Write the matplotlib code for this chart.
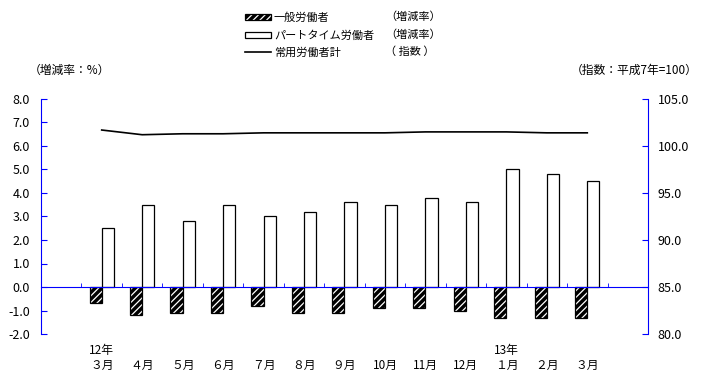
import numpy as np
import matplotlib.pyplot as plt
from matplotlib.legend_handler import HandlerTuple

plt.rcParams['font.family'] = ['Noto Sans CJK JP', 'DejaVu Sans']
plt.rcParams['hatch.linewidth'] = 0.9

# Data
months = ['３月', '４月', '５月', '６月', '７月', '８月', '９月',
          '10月', '11月', '12月', '１月', '２月', '３月']
years = {0: '12年', 10: '13年'}
general = [-0.7, -1.2, -1.1, -1.1, -0.8, -1.1, -1.1, -0.9, -0.9, -1.0, -1.3, -1.3, -1.3]
parttime = [2.5, 3.5, 2.8, 3.5, 3.0, 3.2, 3.6, 3.5, 3.8, 3.6, 5.0, 4.8, 4.5]
index = [101.7, 101.2, 101.3, 101.3, 101.4, 101.4, 101.4, 101.4, 101.5, 101.5, 101.5, 101.4, 101.4]

blue = '#0000ff'
x = np.arange(len(months))
w = 0.3

fig = plt.figure(figsize=(7.26, 3.80), dpi=100)
ax = fig.add_axes([41/726, 1 - 334/380, (648 - 41)/726, (334 - 99)/380])

# hatched bars: black face, white hatch, black outline on top
hb = ax.bar(x - w/2, general, w, color='black', edgecolor='white', hatch='/////', linewidth=0)
hb_edge = ax.bar(x - w/2, general, w, fill=False, edgecolor='black', linewidth=0.9)
pb = ax.bar(x + w/2, parttime, w, color='white', edgecolor='black', linewidth=0.9)

ax.set_xlim(-1.5, 13.5)
ax.set_ylim(-2, 8)
ax.set_yticks(np.arange(-2, 9, 1))
ax.set_yticklabels([f'{v:.1f}' for v in np.arange(-2, 9, 1)], fontsize=9)
ax.spines['top'].set_visible(False)
ax.spines['right'].set_visible(False)
ax.spines['left'].set_color(blue)
ax.spines['bottom'].set_color(blue)
ax.spines['bottom'].set_position(('data', 0))
ax.tick_params(axis='y', direction='in', color=blue, length=4, pad=8)
ax.set_xticks([])
ax.set_xticks(np.arange(-0.5, 13, 1), minor=True)
ax.tick_params(axis='x', which='minor', direction='in', color=blue, length=3)

ax2 = ax.twinx()
ln, = ax2.plot(x, index, color='black', linewidth=1.2)
ax2.set_ylim(80, 105)
ax2.set_yticks(np.arange(80, 106, 5))
ax2.set_yticklabels([f'{v:.1f}' for v in np.arange(80, 106, 5)], fontsize=9)
for s in ['top', 'left', 'bottom']:
    ax2.spines[s].set_visible(False)
ax2.spines['right'].set_color(blue)
ax2.tick_params(axis='y', direction='in', color=blue, length=4, pad=7)

# month labels
for i, m in enumerate(months):
    ax.text(i, -3.35, m, ha='center', va='center', fontsize=8.5)
for i, y in years.items():
    ax.text(i, -2.7, y, ha='center', va='center', fontsize=8.5)

fig.text(69/726, 1 - 70/380, '（増減率：%）', ha='center', va='center', fontsize=8.5)
fig.text(634/726, 1 - 70/380, '（指数：平成7年=100）', ha='center', va='center', fontsize=8.5)

# legend
fig.legend([(hb[0], hb_edge[0]), pb[0], ln],
           ['一般労働者', 'パートタイム労働者', '常用労働者計'],
           handler_map={tuple: HandlerTuple()},
           loc='upper left', bbox_to_anchor=(239/726, 1 - 7/380),
           frameon=False, fontsize=8, handlelength=2.4, handleheight=0.45,
           handletextpad=0.25, labelspacing=0.62, borderpad=0)
for yy, t in [(17, '（増減率）'), (35, '（増減率）'), (52, '（ 指数 ）')]:
    fig.text(385/726, 1 - yy/380, t, ha='left', va='center', fontsize=8)

fig.savefig('out.png', dpi=100)
